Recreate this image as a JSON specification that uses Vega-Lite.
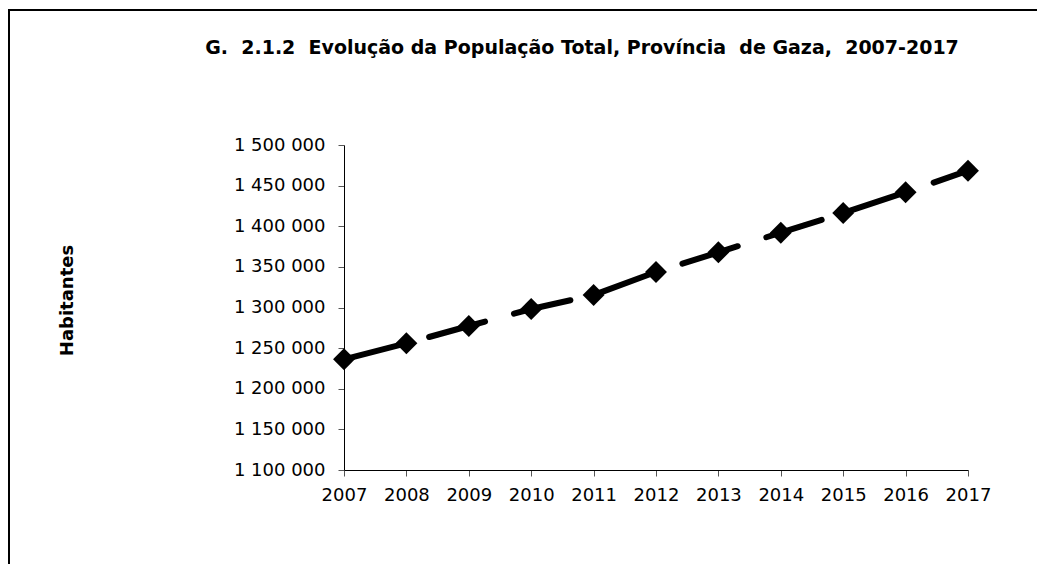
{
  "$schema": "https://vega.github.io/schema/vega-lite/v6.json",
  "width": 1040,
  "height": 560,
  "autosize": {"type": "none"},
  "padding": {"left": 9, "top": 10, "right": -12, "bottom": -6},
  "background": "white",
  "config": {
    "locale": {"number": {"decimal": ",", "thousands": " ", "grouping": [3], "currency": ["", ""]}},
    "view": {"stroke": "black", "strokeWidth": 2},
    "font": "DejaVu Sans"
  },
  "title": {
    "text": "G.\u00a0 2.1.2\u00a0 Evolução da População Total, Província\u00a0 de Gaza,\u00a0 2007-2017",
    "font": "DejaVu Sans",
    "fontSize": 19,
    "fontWeight": "bold",
    "color": "black",
    "anchor": "middle",
    "frame": "group",
    "dx": 53,
    "offset": -63,
    "baseline": "alphabetic"
  },
  "data": {
    "values": [
      {"ano": 2007, "habitantes": 1236250},
      {"ano": 2008, "habitantes": 1255950},
      {"ano": 2009, "habitantes": 1277230},
      {"ano": 2010, "habitantes": 1298150},
      {"ano": 2011, "habitantes": 1315380},
      {"ano": 2012, "habitantes": 1343690},
      {"ano": 2013, "habitantes": 1367940},
      {"ano": 2014, "habitantes": 1392060},
      {"ano": 2015, "habitantes": 1416310},
      {"ano": 2016, "habitantes": 1441780},
      {"ano": 2017, "habitantes": 1468390}
    ]
  },
  "encoding": {
    "x": {
      "field": "ano",
      "type": "quantitative",
      "scale": {"domain": [2007, 2017], "range": [335, 959], "nice": false, "zero": false},
      "axis": {
        "values": [2007, 2008, 2009, 2010, 2011, 2012, 2013, 2014, 2015, 2016, 2017],
        "format": "d",
        "offset": -100,
        "title": null,
        "grid": false,
        "domainColor": "black",
        "domainWidth": 1,
        "tickColor": "#555555",
        "tickSize": 6,
        "labelFont": "DejaVu Sans",
        "labelFontSize": 18,
        "labelColor": "black",
        "labelPadding": 10,
        "labelFlush": false,
        "labelOverlap": false
      }
    },
    "y": {
      "field": "habitantes",
      "type": "quantitative",
      "scale": {"domain": [1100000, 1500000], "range": [460, 135], "nice": false, "zero": false},
      "axis": {
        "values": [1100000, 1150000, 1200000, 1250000, 1300000, 1350000, 1400000, 1450000, 1500000],
        "format": ",d",
        "offset": -335,
        "grid": false,
        "domainColor": "black",
        "domainWidth": 1,
        "tickColor": "#555555",
        "tickSize": 6,
        "labelFont": "DejaVu Sans",
        "labelFontSize": 18,
        "labelColor": "black",
        "labelPadding": 13,
        "labelFlush": false,
        "labelOverlap": false,
        "title": "Habitantes",
        "titleFont": "DejaVu Sans",
        "titleFontSize": 18,
        "titleFontWeight": "bold",
        "titleColor": "black",
        "titleAngle": -90,
        "titleAlign": "center",
        "titleBaseline": "middle",
        "titleX": -277,
        "titleY": 290
      }
    }
  },
  "layer": [
    {
      "mark": {
        "type": "line",
        "color": "black",
        "strokeWidth": 6,
        "strokeDash": [58, 30],
        "strokeCap": "round",
        "strokeJoin": "round"
      }
    },
    {
      "mark": {
        "type": "point",
        "shape": "diamond",
        "filled": true,
        "color": "black",
        "opacity": 1,
        "size": 480
      }
    }
  ]
}
